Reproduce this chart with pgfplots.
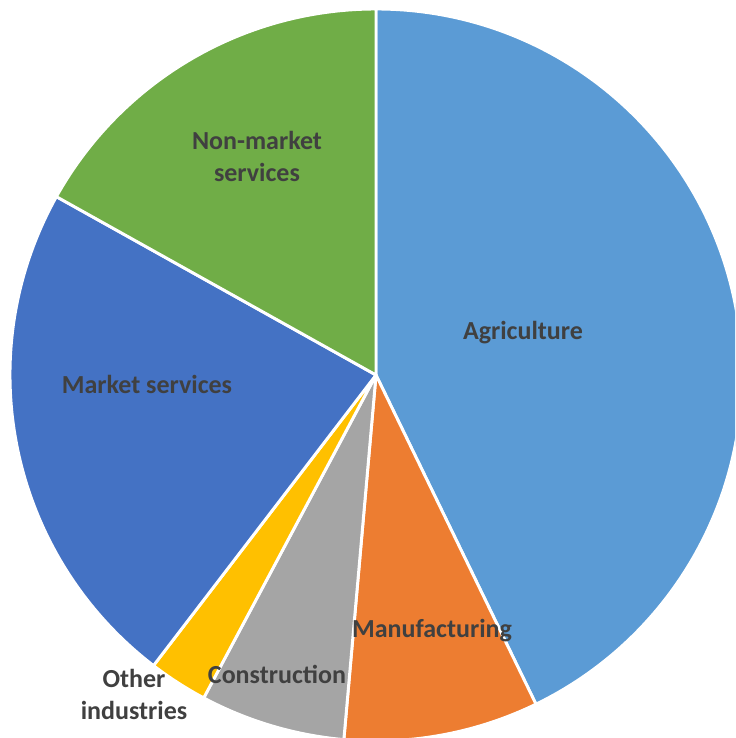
\documentclass[border=0pt]{standalone}
\usepackage{pgfplots}
\pgfplotsset{compat=1.18}
\usepackage{fontspec}
\setmainfont{Carlito}
\definecolor{cAgr}{HTML}{5B9BD5}
\definecolor{cMan}{HTML}{ED7D31}
\definecolor{cCon}{HTML}{A5A5A5}
\definecolor{cOth}{HTML}{FFC000}
\definecolor{cMar}{HTML}{4472C4}
\definecolor{cNon}{HTML}{70AD47}
\definecolor{lbl}{HTML}{404040}
\tikzset{lab/.style={font=\fontsize{19.5}{24}\selectfont\bfseries, text=lbl, align=center, inner sep=0pt}}
% slice: #1 cumulative share before (percent), #2 share (percent), #3 colour
\newcommand\slice[3]{%
  \fill[#3, draw=white, line width=2.2pt, line join=round]
    (axis cs:376,363) -- ++({90-3.6*#1}:366)
    arc[start angle={90-3.6*#1}, end angle={90-3.6*(#1+#2)}, radius=366] -- cycle;}
\begin{document}
\begin{tikzpicture}
\begin{axis}[
  width=551.25pt, height=553.5pt, scale only axis,
  xmin=0, xmax=735, ymin=0, ymax=738,
  hide axis, clip=true,
]
\addplot[draw=none] coordinates {(0,0) (735,738)};
\slice{0}{42.8}{cAgr}
\slice{42.8}{8.6}{cMan}
\slice{51.4}{6.4}{cCon}
\slice{57.8}{2.6}{cOth}
\slice{60.4}{22.7}{cMar}
\slice{83.1}{16.9}{cNon}
\node[lab] at (axis cs:523,405) {Agriculture};
\node[lab] at (axis cs:432,107) {Manufacturing};
\node[lab] at (axis cs:277,64) {Construction};
\node[lab] at (axis cs:134,44) {Other\\industries};
\node[lab] at (axis cs:147,354) {Market services};
\node[lab] at (axis cs:257,582) {Non-market\\services};
\end{axis}
\end{tikzpicture}
\end{document}
